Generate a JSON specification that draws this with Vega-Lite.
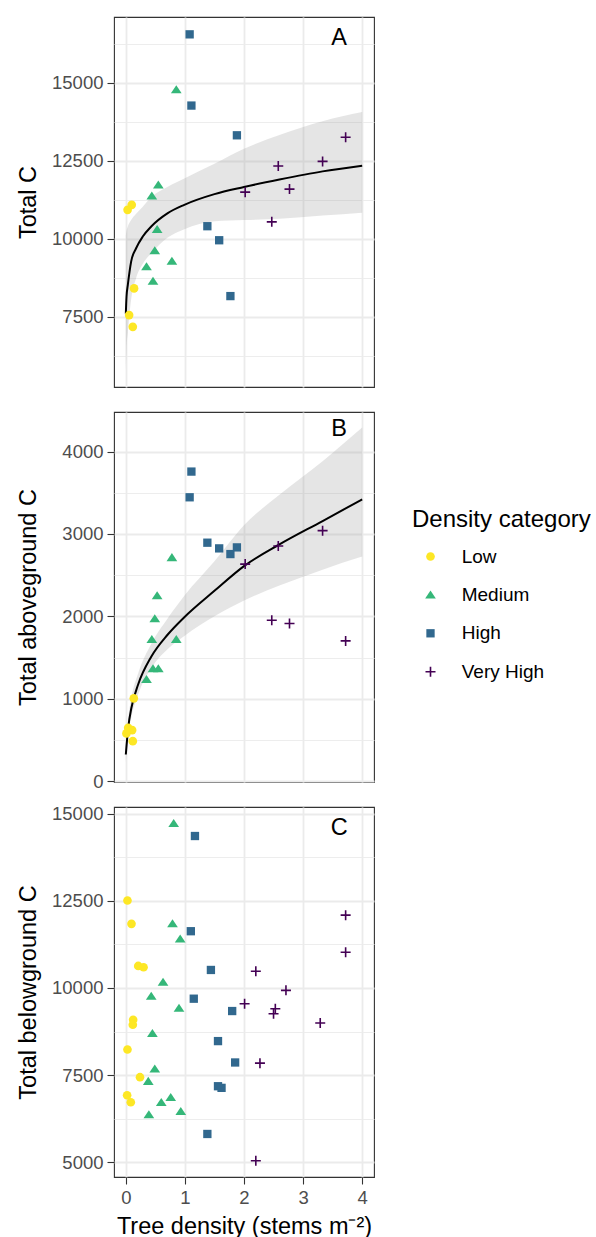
{
  "$schema": "https://vega.github.io/schema/vega-lite/v6.json",
  "padding": {"left": 15, "top": 16, "right": 0, "bottom": 0},
  "background": "white",
  "bounds": "flush",
  "spacing": 25,
  "datasets": {
    "ptsA": [
      {"density": 0.03, "carbon": 10929, "cat": "Low"},
      {"density": 0.10, "carbon": 11089, "cat": "Low"},
      {"density": 0.14, "carbon": 8411, "cat": "Low"},
      {"density": 0.056, "carbon": 7554, "cat": "Low"},
      {"density": 0.118, "carbon": 7179, "cat": "Low"},
      {"density": 0.854, "carbon": 14786, "cat": "Medium"},
      {"density": 0.55, "carbon": 11732, "cat": "Medium"},
      {"density": 0.44, "carbon": 11379, "cat": "Medium"},
      {"density": 0.53, "carbon": 10307, "cat": "Medium"},
      {"density": 0.49, "carbon": 9621, "cat": "Medium"},
      {"density": 0.35, "carbon": 9107, "cat": "Medium"},
      {"density": 0.78, "carbon": 9289, "cat": "Medium"},
      {"density": 0.46, "carbon": 8646, "cat": "Medium"},
      {"density": 1.08, "carbon": 16554, "cat": "High"},
      {"density": 1.11, "carbon": 14271, "cat": "High"},
      {"density": 1.88, "carbon": 13318, "cat": "High"},
      {"density": 1.38, "carbon": 10404, "cat": "High"},
      {"density": 1.58, "carbon": 9954, "cat": "High"},
      {"density": 1.77, "carbon": 8164, "cat": "High"},
      {"density": 3.72, "carbon": 13254, "cat": "Very High"},
      {"density": 3.33, "carbon": 12482, "cat": "Very High"},
      {"density": 2.58, "carbon": 12332, "cat": "Very High"},
      {"density": 2.02, "carbon": 11496, "cat": "Very High"},
      {"density": 2.77, "carbon": 11593, "cat": "Very High"},
      {"density": 2.47, "carbon": 10543, "cat": "Very High"}
    ],
    "ptsB": [
      {"density": 0.135, "carbon": 1005, "cat": "Low"},
      {"density": 0.04, "carbon": 648, "cat": "Low"},
      {"density": 0.107, "carbon": 620, "cat": "Low"},
      {"density": 0.01, "carbon": 580, "cat": "Low"},
      {"density": 0.118, "carbon": 486, "cat": "Low"},
      {"density": 0.78, "carbon": 2715, "cat": "Medium"},
      {"density": 0.53, "carbon": 2253, "cat": "Medium"},
      {"density": 0.49, "carbon": 1974, "cat": "Medium"},
      {"density": 0.44, "carbon": 1722, "cat": "Medium"},
      {"density": 0.854, "carbon": 1722, "cat": "Medium"},
      {"density": 0.46, "carbon": 1366, "cat": "Medium"},
      {"density": 0.55, "carbon": 1366, "cat": "Medium"},
      {"density": 0.35, "carbon": 1236, "cat": "Medium"},
      {"density": 1.11, "carbon": 3757, "cat": "High"},
      {"density": 1.08, "carbon": 3445, "cat": "High"},
      {"density": 1.38, "carbon": 2894, "cat": "High"},
      {"density": 1.58, "carbon": 2825, "cat": "High"},
      {"density": 1.77, "carbon": 2756, "cat": "High"},
      {"density": 1.88, "carbon": 2837, "cat": "High"},
      {"density": 3.33, "carbon": 3040, "cat": "Very High"},
      {"density": 2.58, "carbon": 2853, "cat": "Very High"},
      {"density": 2.02, "carbon": 2634, "cat": "Very High"},
      {"density": 2.47, "carbon": 1953, "cat": "Very High"},
      {"density": 2.77, "carbon": 1913, "cat": "Very High"},
      {"density": 3.72, "carbon": 1702, "cat": "Very High"}
    ],
    "ptsC": [
      {"density": 0.028, "carbon": 12509, "cat": "Low"},
      {"density": 0.096, "carbon": 11839, "cat": "Low"},
      {"density": 0.21, "carbon": 10632, "cat": "Low"},
      {"density": 0.30, "carbon": 10594, "cat": "Low"},
      {"density": 0.124, "carbon": 9090, "cat": "Low"},
      {"density": 0.118, "carbon": 8946, "cat": "Low"},
      {"density": 0.028, "carbon": 8237, "cat": "Low"},
      {"density": 0.24, "carbon": 7442, "cat": "Low"},
      {"density": 0.022, "carbon": 6925, "cat": "Low"},
      {"density": 0.084, "carbon": 6724, "cat": "Low"},
      {"density": 0.81, "carbon": 14722, "cat": "Medium"},
      {"density": 0.79, "carbon": 11848, "cat": "Medium"},
      {"density": 0.92, "carbon": 11408, "cat": "Medium"},
      {"density": 0.63, "carbon": 10172, "cat": "Medium"},
      {"density": 0.43, "carbon": 9770, "cat": "Medium"},
      {"density": 0.90, "carbon": 9425, "cat": "Medium"},
      {"density": 0.45, "carbon": 8697, "cat": "Medium"},
      {"density": 0.49, "carbon": 7682, "cat": "Medium"},
      {"density": 0.38, "carbon": 7327, "cat": "Medium"},
      {"density": 0.76, "carbon": 6867, "cat": "Medium"},
      {"density": 0.60, "carbon": 6724, "cat": "Medium"},
      {"density": 0.93, "carbon": 6465, "cat": "Medium"},
      {"density": 0.39, "carbon": 6369, "cat": "Medium"},
      {"density": 1.17, "carbon": 14358, "cat": "High"},
      {"density": 1.10, "carbon": 11628, "cat": "High"},
      {"density": 1.44, "carbon": 10517, "cat": "High"},
      {"density": 1.15, "carbon": 9693, "cat": "High"},
      {"density": 1.80, "carbon": 9339, "cat": "High"},
      {"density": 1.56, "carbon": 8477, "cat": "High"},
      {"density": 1.85, "carbon": 7864, "cat": "High"},
      {"density": 1.56, "carbon": 7183, "cat": "High"},
      {"density": 1.62, "carbon": 7136, "cat": "High"},
      {"density": 1.38, "carbon": 5814, "cat": "High"},
      {"density": 3.72, "carbon": 12088, "cat": "Very High"},
      {"density": 3.72, "carbon": 11025, "cat": "Very High"},
      {"density": 2.20, "carbon": 10479, "cat": "Very High"},
      {"density": 2.71, "carbon": 9933, "cat": "Very High"},
      {"density": 2.01, "carbon": 9550, "cat": "Very High"},
      {"density": 2.53, "carbon": 9406, "cat": "Very High"},
      {"density": 2.50, "carbon": 9262, "cat": "Very High"},
      {"density": 3.29, "carbon": 8994, "cat": "Very High"},
      {"density": 2.27, "carbon": 7845, "cat": "Very High"},
      {"density": 2.20, "carbon": 5047, "cat": "Very High"}
    ],
    "fitA": [
      {"x": 0, "fit": 7600, "lo": 5790, "hi": 10108},
      {"x": 0.012, "fit": 8150, "lo": 6480, "hi": 10250},
      {"x": 0.034, "fit": 8520, "lo": 6984, "hi": 10394},
      {"x": 0.09, "fit": 9270, "lo": 8061, "hi": 10600},
      {"x": 0.174, "fit": 9697, "lo": 8736, "hi": 10800},
      {"x": 0.287, "fit": 10073, "lo": 9199, "hi": 11030},
      {"x": 0.43, "fit": 10394, "lo": 9536, "hi": 11329},
      {"x": 0.71, "fit": 10822, "lo": 10039, "hi": 11666},
      {"x": 0.99, "fit": 11090, "lo": 10307, "hi": 11933},
      {"x": 1.5, "fit": 11432, "lo": 10560, "hi": 12404},
      {"x": 2.0, "fit": 11660, "lo": 10600, "hi": 12884},
      {"x": 2.6, "fit": 11900, "lo": 10640, "hi": 13328},
      {"x": 3.33, "fit": 12162, "lo": 10744, "hi": 13767},
      {"x": 4.0, "fit": 12345, "lo": 10838, "hi": 14061}
    ],
    "fitB": [
      {"x": 0, "fit": 324, "lo": 230, "hi": 455},
      {"x": 0.04, "fit": 648, "lo": 554, "hi": 758},
      {"x": 0.095, "fit": 891, "lo": 782, "hi": 1016},
      {"x": 0.21, "fit": 1176, "lo": 1055, "hi": 1311},
      {"x": 0.43, "fit": 1510, "lo": 1369, "hi": 1665},
      {"x": 0.71, "fit": 1780, "lo": 1604, "hi": 1976},
      {"x": 0.99, "fit": 1990, "lo": 1761, "hi": 2249},
      {"x": 1.5, "fit": 2310, "lo": 2000, "hi": 2668},
      {"x": 2.0, "fit": 2610, "lo": 2193, "hi": 3106},
      {"x": 2.6, "fit": 2873, "lo": 2374, "hi": 3476},
      {"x": 3.33, "fit": 3157, "lo": 2567, "hi": 3883},
      {"x": 4.0, "fit": 3420, "lo": 2725, "hi": 4292}
    ],
    "labs": [
      {"panel": "A", "x": 3.61, "y": 16446},
      {"panel": "B", "x": 3.61, "y": 4276},
      {"panel": "C", "x": 3.61, "y": 14578}
    ]
  },
  "config": {
    "font": "Liberation Sans",
    "view": {"stroke": "#333333", "strokeWidth": 1.1},
    "axis": {
      "domain": false,
      "gridColor": "#EBEBEB",
      "tickColor": "#333333",
      "tickSize": 7,
      "tickWidth": 1.1,
      "labelColor": "#4D4D4D",
      "labelFontSize": 18.5,
      "labelPadding": 4,
      "labelFont": "Liberation Sans",
      "titleFont": "Liberation Sans",
      "titleFontSize": 23.5,
      "titleFontWeight": "normal",
      "titleColor": "#000000"
    },
    "axisY": {"minExtent": 64, "titlePadding": 10},
    "axisX": {"titlePadding": 8},
    "legend": {
      "titleFont": "Liberation Sans",
      "labelFont": "Liberation Sans",
      "titleFontSize": 24,
      "titleFontWeight": "normal",
      "titleColor": "#000000",
      "labelFontSize": 19,
      "labelColor": "#000000",
      "symbolSize": 75,
      "symbolStrokeWidth": 0,
      "rowPadding": 18.4,
      "labelOffset": 21.7,
      "symbolOffset": 9,
      "titlePadding": 15
    }
  },
  "resolve": {
    "scale": {"x": "independent", "y": "independent", "color": "shared", "shape": "shared"},
    "legend": {"color": "shared", "shape": "shared"}
  },
  "vconcat": [
    {
      "width": 260,
      "height": 370,
      "layer": [
        {
          "data": {"name": "fitA"},
          "mark": {"type": "area", "color": "#999999", "opacity": 0.25, "interpolate": "monotone"},
          "encoding": {
            "x": {"field": "x", "type": "quantitative", "scale": {"domain": [-0.2, 4.2], "nice": false, "zero": false},
              "axis": {"labels": false, "ticks": false, "title": null, "values": [0, 0.5, 1, 1.5, 2, 2.5, 3, 3.5, 4],
                "gridWidth": {"condition": {"test": "datum.value % 1 === 0", "value": 1.8}, "value": 0.9}}},
            "y": {"field": "lo", "type": "quantitative", "scale": {"domain": [5250, 17110], "nice": false, "zero": false},
              "axis": {"title": "Total C", "values": [6250, 7500, 8750, 10000, 11250, 12500, 13750, 15000, 16250],
                "labelExpr": "datum.value % 2500 === 0 ? format(datum.value, 'd') : ''",
                "tickOpacity": {"condition": {"test": "datum.value % 2500 === 0", "value": 1}, "value": 0},
                "gridWidth": {"condition": {"test": "datum.value % 2500 === 0", "value": 1.8}, "value": 0.9}}},
            "y2": {"field": "hi"}
          }
        },
        {
          "data": {"name": "fitA"},
          "mark": {"type": "line", "color": "#000000", "strokeWidth": 2, "interpolate": "monotone"},
          "encoding": {
            "x": {"field": "x", "type": "quantitative"},
            "y": {"field": "fit", "type": "quantitative"}
          }
        },
        {
          "data": {"name": "ptsA"},
          "mark": {"type": "point", "filled": true, "opacity": 1, "size": 75, "strokeWidth": 0},
          "encoding": {
            "x": {"field": "density", "type": "quantitative"},
            "y": {"field": "carbon", "type": "quantitative"},
            "color": {"field": "cat", "type": "nominal", "title": "Density category",
              "scale": {"domain": ["Low", "Medium", "High", "Very High"], "range": ["#FDE725", "#35B779", "#31688E", "#440154"]},
              "legend": {"orient": "none", "legendX": 298, "legendY": 491}},
            "shape": {"field": "cat", "type": "nominal", "title": "Density category",
              "scale": {"domain": ["Low", "Medium", "High", "Very High"], "range": ["circle", "M0,-1.0L1.235,0.85L-1.235,0.85Z", "M-0.96,-0.96H0.96V0.96H-0.96Z", "M-1.155,-0.185H-0.185V-1.155H0.185V-0.185H1.155V0.185H0.185V1.155H-0.185V0.185H-1.155Z"]},
              "legend": {"orient": "none", "legendX": 298, "legendY": 491}}
          }
        },
        {
          "data": {"name": "labs"},
          "transform": [{"filter": "datum.panel === 'A'"}],
          "mark": {"type": "text", "fontSize": 23.5, "color": "#000000", "font": "Liberation Sans"},
          "encoding": {
            "x": {"field": "x", "type": "quantitative"},
            "y": {"field": "y", "type": "quantitative"},
            "text": {"field": "panel"}
          }
        }
      ]
    },
    {
      "width": 260,
      "height": 370,
      "layer": [
        {
          "data": {"name": "fitB"},
          "mark": {"type": "area", "color": "#999999", "opacity": 0.25, "interpolate": "monotone"},
          "encoding": {
            "x": {"field": "x", "type": "quantitative", "scale": {"domain": [-0.2, 4.2], "nice": false, "zero": false},
              "axis": {"labels": false, "ticks": false, "title": null, "values": [0, 0.5, 1, 1.5, 2, 2.5, 3, 3.5, 4],
                "gridWidth": {"condition": {"test": "datum.value % 1 === 0", "value": 1.8}, "value": 0.9}}},
            "y": {"field": "lo", "type": "quantitative", "scale": {"domain": [-10, 4480], "nice": false, "zero": false},
              "axis": {"title": "Total aboveground C", "values": [0, 500, 1000, 1500, 2000, 2500, 3000, 3500, 4000],
                "labelExpr": "datum.value % 1000 === 0 ? format(datum.value, 'd') : ''",
                "tickOpacity": {"condition": {"test": "datum.value % 1000 === 0", "value": 1}, "value": 0},
                "gridWidth": {"condition": {"test": "datum.value % 1000 === 0", "value": 1.8}, "value": 0.9}}},
            "y2": {"field": "hi"}
          }
        },
        {
          "data": {"name": "fitB"},
          "mark": {"type": "line", "color": "#000000", "strokeWidth": 2, "interpolate": "monotone"},
          "encoding": {
            "x": {"field": "x", "type": "quantitative"},
            "y": {"field": "fit", "type": "quantitative"}
          }
        },
        {
          "data": {"name": "ptsB"},
          "mark": {"type": "point", "filled": true, "opacity": 1, "size": 75, "strokeWidth": 0},
          "encoding": {
            "x": {"field": "density", "type": "quantitative"},
            "y": {"field": "carbon", "type": "quantitative"},
            "color": {"field": "cat", "type": "nominal", "title": "Density category",
              "scale": {"domain": ["Low", "Medium", "High", "Very High"], "range": ["#FDE725", "#35B779", "#31688E", "#440154"]},
              "legend": {"orient": "none", "legendX": 298, "legendY": 491}},
            "shape": {"field": "cat", "type": "nominal", "title": "Density category",
              "scale": {"domain": ["Low", "Medium", "High", "Very High"], "range": ["circle", "M0,-1.0L1.235,0.85L-1.235,0.85Z", "M-0.96,-0.96H0.96V0.96H-0.96Z", "M-1.155,-0.185H-0.185V-1.155H0.185V-0.185H1.155V0.185H0.185V1.155H-0.185V0.185H-1.155Z"]},
              "legend": {"orient": "none", "legendX": 298, "legendY": 491}}
          }
        },
        {
          "data": {"name": "labs"},
          "transform": [{"filter": "datum.panel === 'B'"}],
          "mark": {"type": "text", "fontSize": 23.5, "color": "#000000", "font": "Liberation Sans"},
          "encoding": {
            "x": {"field": "x", "type": "quantitative"},
            "y": {"field": "y", "type": "quantitative"},
            "text": {"field": "panel"}
          }
        }
      ]
    },
    {
      "width": 260,
      "height": 370,
      "layer": [
        {
          "data": {"name": "ptsC"},
          "mark": {"type": "point", "filled": true, "opacity": 1, "size": 75, "strokeWidth": 0},
          "encoding": {
            "x": {"field": "density", "type": "quantitative", "scale": {"domain": [-0.2, 4.2], "nice": false, "zero": false},
              "axis": {"title": "Tree density (stems m⁻²)", "values": [0, 0.5, 1, 1.5, 2, 2.5, 3, 3.5, 4],
                "labelExpr": "datum.value % 1 === 0 ? format(datum.value, 'd') : ''",
                "tickOpacity": {"condition": {"test": "datum.value % 1 === 0", "value": 1}, "value": 0},
                "gridWidth": {"condition": {"test": "datum.value % 1 === 0", "value": 1.8}, "value": 0.9}}},
            "y": {"field": "carbon", "type": "quantitative", "scale": {"domain": [4580, 15190], "nice": false, "zero": false},
              "axis": {"title": "Total belowground C", "values": [5000, 6250, 7500, 8750, 10000, 11250, 12500, 13750, 15000],
                "labelExpr": "datum.value % 2500 === 0 ? format(datum.value, 'd') : ''",
                "tickOpacity": {"condition": {"test": "datum.value % 2500 === 0", "value": 1}, "value": 0},
                "gridWidth": {"condition": {"test": "datum.value % 2500 === 0", "value": 1.8}, "value": 0.9}}},
            "color": {"field": "cat", "type": "nominal", "title": "Density category",
              "scale": {"domain": ["Low", "Medium", "High", "Very High"], "range": ["#FDE725", "#35B779", "#31688E", "#440154"]},
              "legend": {"orient": "none", "legendX": 298, "legendY": 491}},
            "shape": {"field": "cat", "type": "nominal", "title": "Density category",
              "scale": {"domain": ["Low", "Medium", "High", "Very High"], "range": ["circle", "M0,-1.0L1.235,0.85L-1.235,0.85Z", "M-0.96,-0.96H0.96V0.96H-0.96Z", "M-1.155,-0.185H-0.185V-1.155H0.185V-0.185H1.155V0.185H0.185V1.155H-0.185V0.185H-1.155Z"]},
              "legend": {"orient": "none", "legendX": 298, "legendY": 491}}
          }
        },
        {
          "data": {"name": "labs"},
          "transform": [{"filter": "datum.panel === 'C'"}],
          "mark": {"type": "text", "fontSize": 23.5, "color": "#000000", "font": "Liberation Sans"},
          "encoding": {
            "x": {"field": "x", "type": "quantitative"},
            "y": {"field": "y", "type": "quantitative"},
            "text": {"field": "panel"}
          }
        }
      ]
    }
  ]
}
